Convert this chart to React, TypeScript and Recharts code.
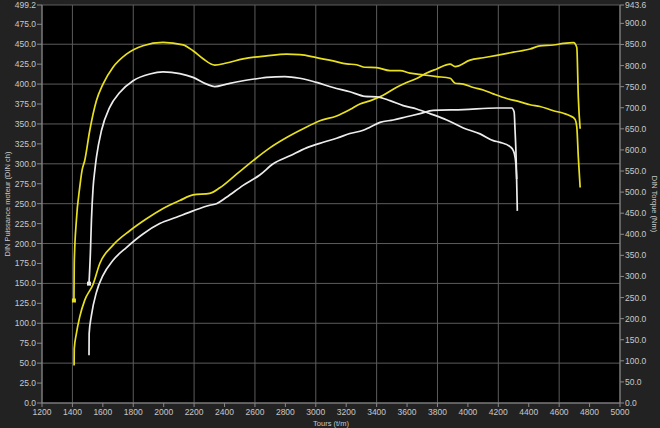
import { LineChart, Line, XAxis, YAxis, CartesianGrid } from "recharts";

// engine speed (t/m) and readings, two runs: yellow and white
const yellowPowerRpm = [1411, 1412, 1426, 1448, 1481, 1536, 1580, 1667, 1777, 1887, 1996, 2106, 2193, 2303, 2369, 2479, 2588, 2698, 2808, 2917, 3027, 3137, 3224, 3290, 3356, 3443, 3532, 3597, 3663, 3729, 3795, 3883, 3916, 4014, 4101, 4190, 4299, 4409, 4474, 4562, 4628, 4694, 4716, 4726, 4738];
const yellowPowerCh = [47, 68, 87, 108, 129, 149, 175, 198, 216, 231, 244, 254, 261, 263, 270, 287, 304, 320, 333, 344, 354, 360, 368, 375, 379, 386, 396, 402, 407, 414, 419, 425, 422, 430, 433, 436, 440, 444, 448, 449, 451, 452, 446, 383, 344];

const yellowTorqueRpm = [1410, 1412, 1426, 1448, 1463, 1481, 1514, 1558, 1601, 1667, 1755, 1864, 1996, 2128, 2193, 2259, 2336, 2413, 2522, 2676, 2808, 2895, 3005, 3114, 3203, 3268, 3323, 3400, 3488, 3554, 3619, 3707, 3795, 3883, 3916, 3970, 4036, 4101, 4167, 4255, 4343, 4409, 4474, 4562, 4628, 4671, 4704, 4716, 4726, 4738];
const yellowTorqueNm = [243, 331, 433, 511, 551, 575, 646, 717, 756, 796, 827, 847, 855, 849, 835, 816, 801, 806, 816, 823, 827, 826, 819, 811, 804, 802, 796, 795, 788, 788, 782, 778, 774, 770, 758, 756, 748, 742, 733, 722, 714, 707, 703, 693, 687, 681, 673, 654, 583, 511];

const whitePowerRpm = [1509, 1510, 1525, 1558, 1601, 1667, 1755, 1864, 1974, 2084, 2193, 2303, 2347, 2413, 2522, 2632, 2720, 2830, 2939, 3049, 3137, 3224, 3312, 3356, 3422, 3509, 3597, 3685, 3772, 3970, 4190, 4288, 4304, 4310, 4317, 4321, 4325];
const whitePowerCh = [60, 87, 110, 139, 160, 179, 195, 212, 225, 233, 241, 248, 250, 258, 273, 286, 300, 310, 320, 327, 332, 338, 342, 346, 352, 355, 359, 363, 367, 368, 370, 370, 365, 342, 308, 275, 241];

const whiteTorqueRpm = [1509, 1518, 1525, 1536, 1547, 1558, 1591, 1645, 1711, 1799, 1909, 1996, 2106, 2193, 2282, 2336, 2413, 2522, 2632, 2676, 2797, 2895, 3005, 3114, 3224, 3323, 3400, 3488, 3575, 3663, 3751, 3861, 3970, 4080, 4167, 4211, 4277, 4299, 4310, 4317, 4321];
const whiteTorqueNm = [283, 354, 433, 511, 551, 583, 646, 701, 736, 764, 780, 785, 781, 772, 756, 750, 756, 764, 770, 772, 774, 770, 760, 748, 738, 727, 726, 717, 705, 697, 686, 671, 652, 638, 622, 618, 608, 598, 583, 559, 531];

const rpmTicks = [1200, 1400, 1600, 1800, 2000, 2200, 2400, 2600, 2800, 3000, 3200, 3400, 3600, 3800, 4000, 4200, 4400, 4600, 4800, 5000];
const powerTicks = [0, 25, 50, 75, 100, 125, 150, 175, 200, 225, 250, 275, 300, 325, 350, 375, 400, 425, 450, 475, 499.2];
const torqueTicks = [0, 50, 100, 150, 200, 250, 300, 350, 400, 450, 500, 550, 600, 650, 700, 750, 800, 850, 900, 943.6];

const YELLOW = "#e8e01e";
const WHITE = "#ececec";
const FONT = "'Liberation Sans', Arial, sans-serif";

const toPoints = (rpm: number[], vals: number[]) => rpm.map((r, i) => ({ rpm: r, v: vals[i] }));

const startMark = (color: string) => (p: any) =>
  p.index === 0 ? (
    <rect key={`m-${p.index}`} x={p.cx - 2} y={p.cy - 2} width={4} height={4} fill={color} />
  ) : (
    <g key={`m-${p.index}`} />
  );

const tickStyle = { fill: "#c8c8c8", fontSize: 8.5, fontFamily: FONT };
const labelStyle = { fill: "#c8c8c8", fontSize: 7.5, fontFamily: FONT };

export default function App() {
  return (
    <div style={{ position: "absolute", left: 0, top: 0, width: 660, height: 428, background: "#222222" }}>
      <LineChart width={660} height={428} margin={{ top: 5, right: 0, bottom: 0, left: 0 }}>
        <CartesianGrid stroke="#5c5c5c" strokeWidth={1} fill="#000" yAxisId="power" />
        <XAxis
          dataKey="rpm"
          type="number"
          domain={[1200, 5000]}
          ticks={rpmTicks}
          allowDuplicatedCategory={false}
          height={25}
          tickSize={4}
          tickMargin={2}
          tick={tickStyle}
          stroke="#888"
          label={{ value: "Tours (t/m)", position: "insideBottom", offset: 2, style: labelStyle }}
        />
        <YAxis
          yAxisId="power"
          dataKey="v"
          domain={[0, 499.2]}
          ticks={powerTicks}
          width={42}
          tickSize={5}
          tickMargin={1}
          tick={tickStyle}
          stroke="#888"
          tickFormatter={(v: number) => v.toFixed(1)}
          label={{ value: "DIN Puissance moteur (DIN ch)", angle: -90, position: "insideLeft", offset: 7, style: { ...labelStyle, textAnchor: "middle" } }}
        />
        <YAxis
          yAxisId="torque"
          orientation="right"
          dataKey="v"
          domain={[0, 943.6]}
          ticks={torqueTicks}
          width={40}
          tickSize={4}
          tickMargin={1}
          tick={tickStyle}
          stroke="#888"
          tickFormatter={(v: number) => v.toFixed(1)}
          label={{ value: "DIN Torque (Nm)", angle: 90, position: "insideRight", offset: 5, style: { ...labelStyle, textAnchor: "middle" } }}
        />
        <Line yAxisId="power" data={toPoints(yellowPowerRpm, yellowPowerCh)} dataKey="v" type="monotone" stroke={YELLOW} strokeWidth={1.7} dot={false} isAnimationActive={false} />
        <Line yAxisId="torque" data={toPoints(yellowTorqueRpm, yellowTorqueNm)} dataKey="v" type="monotone" stroke={YELLOW} strokeWidth={1.7} dot={startMark(YELLOW)} isAnimationActive={false} />
        <Line yAxisId="power" data={toPoints(whitePowerRpm, whitePowerCh)} dataKey="v" type="monotone" stroke={WHITE} strokeWidth={1.7} dot={false} isAnimationActive={false} />
        <Line yAxisId="torque" data={toPoints(whiteTorqueRpm, whiteTorqueNm)} dataKey="v" type="monotone" stroke={WHITE} strokeWidth={1.7} dot={startMark(WHITE)} isAnimationActive={false} />
      </LineChart>
    </div>
  );
}
